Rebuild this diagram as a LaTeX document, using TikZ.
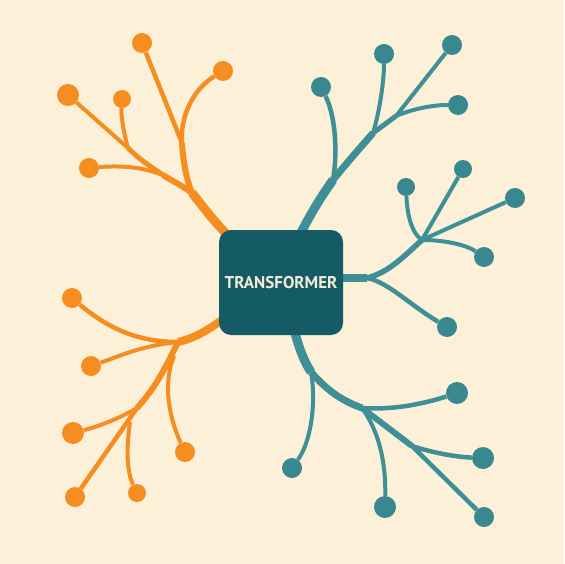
\documentclass[tikz,border=0pt]{standalone}
\usepackage{fontspec}
\setmainfont{PT Sans}
\definecolor{bgc}{HTML}{FDF0D9}
\definecolor{orng}{HTML}{F68D20}
\definecolor{tealb}{HTML}{3E8F96}
\definecolor{tealc}{HTML}{388890}
\definecolor{boxc}{HTML}{145B66}
\definecolor{txtc}{HTML}{F6ECD6}
\pgfdeclarelayer{back}
\pgfsetlayers{back,main}
\begin{document}
\begin{tikzpicture}[x=1pt,y=-1pt,line cap=round,line join=round,
  ob/.style={draw=orng,line width=#1}, ob/.default=4pt,
  tb/.style={draw=tealb,line width=#1}, tb/.default=4pt,
  odot/.style={circle,fill=orng,inner sep=0pt,minimum size=#1}, odot/.default=20pt,
  tdot/.style={circle,fill=tealc,inner sep=0pt,minimum size=#1}, tdot/.default=20pt,
  corebox/.style={rounded corners=12pt,fill=boxc,minimum width=124pt,minimum height=105pt,
    text=txtc,font=\bfseries\fontsize{17}{17}\selectfont,inner sep=0pt}]
\useasboundingbox (0,0) rectangle (564,564);
\node[corebox] (core) at (281,282.5) {TRANSFORMER};
% orange dots
\node[odot] (A) at (142,43) {};
\node[odot] (B) at (223,71) {};
\node[odot=22pt] (C) at (68,95) {};
\node[odot=18pt] (D) at (122,99) {};
\node[odot] (E) at (89,168) {};
\node[odot] (O) at (72,298) {};
\node[odot] (P) at (91,366) {};
\node[odot=22pt] (Q) at (73,433) {};
\node[odot] (R) at (185,452) {};
\node[odot] (S) at (75,497) {};
\node[odot=18pt] (T) at (137,493) {};
% teal dots
\node[tdot] (F) at (321,87) {};
\node[tdot] (G) at (384,54) {};
\node[tdot] (H) at (452,45) {};
\node[tdot] (I) at (458,105) {};
\node[tdot=18pt] (J) at (406,187) {};
\node[tdot=18pt] (K) at (463,169) {};
\node[tdot] (L) at (515,198) {};
\node[tdot] (M) at (484,257) {};
\node[tdot] (N) at (447,327) {};
\node[tdot] (U) at (292,468) {};
\node[tdot=22pt] (V) at (457,393) {};
\node[tdot=22pt] (W) at (483,458) {};
\node[tdot=22pt] (X) at (385,507) {};
\node[tdot] (Y) at (484,517) {};
% junctions
\coordinate (o0) at (234,242);
\coordinate (o1) at (192,193);
\coordinate (o2) at (182,143);
\coordinate (o3) at (163,175);
\coordinate (o4) at (128,148);
\coordinate (q0) at (232,312);
\coordinate (q1) at (178,342);
\coordinate (q3) at (174,356);
\coordinate (q2) at (137,408);
\coordinate (q4) at (130,422);
\coordinate (t0) at (296,242);
\coordinate (t1) at (333,180);
\coordinate (t2) at (373,133);
\coordinate (t3) at (396,116);
\coordinate (r0) at (330,278);
\coordinate (r1) at (367,278);
\coordinate (r2) at (422,240);
\coordinate (b0) at (292,322);
\coordinate (b1) at (311,372);
\coordinate (b2) at (362,408);
\coordinate (b3) at (412,446);
\begin{pgfonlayer}{back}
\fill[bgc] (0,0) rectangle (564,564);
% orange top-left
\draw[ob=9pt] (o0) .. controls (215,222) .. (o1);
\draw[ob=6pt] (o1) .. controls (186,178) and (183,160) .. (o2);
\draw[ob=4.5pt] (o2) -- (A);
\draw[ob=4.5pt] (o2) .. controls (180,118) and (192,90) .. (B);
\draw[ob=6pt] (o1) .. controls (180,184) and (170,180) .. (o3);
\draw[ob=5pt] (o3) .. controls (150,166) and (140,160) .. (o4);
\draw[ob=4pt] (o4) -- (C);
\draw[ob=4pt] (o4) .. controls (123,130) and (121,115) .. (D);
\draw[ob=4pt] (o3) .. controls (145,168) and (125,165) .. (E);
% orange bottom-left
\draw[ob=8pt] (q0) .. controls (212,328) and (196,338) .. (q1);
\draw[ob=4.5pt] (q1) .. controls (140,342) and (110,330) .. (O);
\draw[ob=4pt] (q1) .. controls (140,346) and (120,356) .. (P);
\draw[ob=6pt] (q1) .. controls (168,362) and (158,385) .. (q2);
\draw[ob=4pt] (q3) .. controls (162,385) and (170,420) .. (R);
\draw[ob=4pt] (q2) .. controls (120,418) and (100,426) .. (Q);
\draw[ob=4.5pt] (q2) -- (S);
\draw[ob=4pt] (q4) .. controls (126,450) and (127,472) .. (T);
% teal top-right
\draw[tb=9pt] (t0) .. controls (310,215) and (320,198) .. (t1);
\draw[tb=4.5pt] (t1) .. controls (338,150) and (335,115) .. (F);
\draw[tb=7pt] (t1) .. controls (345,165) and (360,148) .. (t2);
\draw[tb=4pt] (t2) .. controls (380,110) and (384,80) .. (G);
\draw[tb=5pt] (t2) -- (t3);
\draw[tb=4pt] (t3) -- (H);
\draw[tb=4pt] (t3) .. controls (410,110) and (430,105) .. (I);
\draw[tb=8pt] (r0) -- (r1);
\draw[tb=5.5pt] (r1) .. controls (390,272) and (405,255) .. (r2);
\draw[tb=4pt] (r2) .. controls (410,232) and (407,210) .. (J);
\draw[tb=4pt] (r2) -- (K);
\draw[tb=4pt] (r2) -- (L);
\draw[tb=4pt] (r2) .. controls (448,240) and (468,246) .. (M);
\draw[tb=4.5pt] (r1) .. controls (388,282) and (410,305) .. (N);
% teal bottom-right
\draw[tb=9pt] (b0) .. controls (298,345) and (303,360) .. (b1);
\draw[tb=4pt] (b1) .. controls (316,400) and (312,440) .. (U);
\draw[tb=7pt] (b1) .. controls (328,392) and (345,402) .. (b2);
\draw[tb=4.5pt] (b2) .. controls (390,410) and (420,405) .. (V);
\draw[tb=6pt] (b2) -- (b3);
\draw[tb=4pt] (b2) .. controls (378,430) and (386,460) .. (X);
\draw[tb=4.5pt] (b3) .. controls (430,452) and (455,457) .. (W);
\draw[tb=4.5pt] (b3) -- (Y);
\end{pgfonlayer}
\end{tikzpicture}
\end{document}
